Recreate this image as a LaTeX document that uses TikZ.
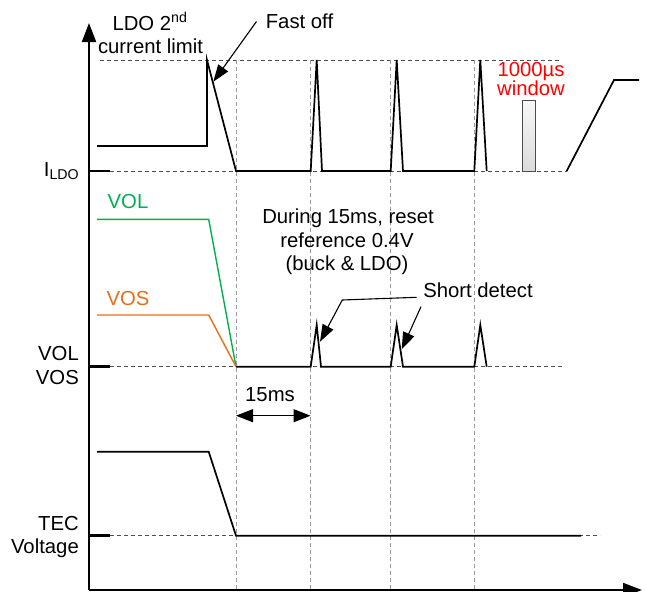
\documentclass[tikz,border=0pt]{standalone}
\usepackage{fontspec}
\setmainfont{Liberation Sans}
\usetikzlibrary{arrows.meta}
\definecolor{volgreen}{RGB}{0,176,80}
\definecolor{vosorange}{RGB}{228,112,30}
\definecolor{redtxt}{RGB}{255,0,0}
\tikzset{
  axisline/.style={line width=2pt,-{Triangle[length=19pt,width=14pt]}},
  wave/.style={line width=1.7pt,black,line join=miter},
  gridline/.style={gray!80,line width=0.8pt,dash pattern=on 4pt off 3pt},
  lvl/.style={black!70,line width=0.8pt,dash pattern=on 4pt off 3pt},
  tickmark/.style={line width=2.8pt,black},
  lbl/.style={font=\fontsize{20.3}{24}\selectfont,inner sep=0pt},
  ann/.style={line width=1.1pt,-{Triangle[length=17pt,width=12pt]}},
  dimarrow/.style={line width=1.1pt,{Triangle[length=17pt,width=13pt]}-{Triangle[length=17pt,width=13pt]}},
}
\begin{document}
\begin{tikzpicture}[x=1pt,y=-1pt]
\useasboundingbox (0,0) rectangle (646,592);
% grid
\draw[lvl] (100,60) -- (560,60);
\draw[lvl] (110,171) -- (567,171);
\draw[lvl] (110,366.7) -- (563,366.7);
\draw[lvl] (110,535.7) -- (600,535.7);
\foreach \xx in {236,310.5,390.7,474.3}
  \draw[gridline] (\xx,60) -- (\xx,590);
% axes
\coordinate (O) at (89,590);
\coordinate (ytop) at (89,23);
\coordinate (xend) at (642,590);
\draw[axisline] (O) -- (ytop);
\draw[axisline] (O) -- (xend);
% ticks
\draw[tickmark] (89,171) -- (110,171);
\draw[tickmark] (89,366.7) -- (110,366.7);
\draw[tickmark] (89,535.7) -- (110,535.7);
% ILDO waveform
\draw[wave] (97,146) -- (207,146) -- (207,60) -- (236,171) -- (310.7,171) -- (316.7,60) -- (322,171)
  -- (390.7,171) -- (396.7,60) -- (403,171) -- (474.3,171) -- (480.3,60) -- (486.7,171);
\draw[wave] (566.7,171) -- (614,80) -- (639,80);
\shade[top color=gray!6,bottom color=gray!28,draw=black!70,line width=0.8pt] (522.7,100.7) rectangle (535.3,171);
% VOL / VOS
\draw[volgreen,line width=1.4pt] (97,219.3) -- (208.7,219.3) -- (236,366.7);
\draw[vosorange,line width=1.4pt] (97,315) -- (208.7,315) -- (236,366.7);
\draw[wave] (236,366.7) -- (310.7,366.7) -- (316.7,325) -- (321,366.7) -- (390.7,366.7) -- (396.7,325)
  -- (403,366.7) -- (474.3,366.7) -- (480.3,325) -- (486.7,366.7);
% TEC
\draw[wave] (97,451.7) -- (208.7,451.7) -- (236,535.7) -- (581,535.7);
% labels
\node[lbl,anchor=base] (ldo) at (150,30) {LDO 2\textsuperscript{nd}};
\node[lbl,anchor=base] (curlim) at (150.5,53) {current limit};
\node[lbl,anchor=base] (fast) at (299.5,28) {Fast off};
\node[lbl,anchor=base,text=redtxt] (win1) at (531,76) {1000µs};
\node[lbl,anchor=base,text=redtxt] (win2) at (531,95) {window};
\node[lbl,anchor=base,text=volgreen] (vol) at (128,208) {VOL};
\node[lbl,anchor=base,text=vosorange] (vos) at (128,305) {VOS};
\node[lbl,anchor=base] (dur1) at (348,223) {During 15ms, reset};
\node[lbl,anchor=base] (dur2) at (347,247) {reference 0.4V};
\node[lbl,anchor=base] (dur3) at (347,270) {(buck \& LDO)};
\node[lbl,anchor=base] (short) at (478,297) {Short detect};
\node[lbl,anchor=base] (ms) at (270,401.7) {15ms};
\node[lbl,anchor=base east] (ildo) at (79.5,176.5) {I\textsubscript{LDO}};
\node[lbl,anchor=base east] (vollbl) at (79,360.7) {VOL};
\node[lbl,anchor=base east] (voslbl) at (79,384) {VOS};
\node[lbl,anchor=base east] (teclbl) at (79,530) {TEC};
\node[lbl,anchor=base east] (voltlbl) at (79,553) {Voltage};
% annotations
\coordinate (fs) at (256.5,21.5);
\coordinate (ft) at (213.3,81.7);
\draw[ann] (fs) -- (ft);
\coordinate (s1a) at (416.7,297.3);
\coordinate (s1b) at (342.3,300);
\coordinate (s1t) at (320,341.7);
\draw[ann] (s1a) -- (s1b) -- (s1t);
\coordinate (s2a) at (421,306.7);
\coordinate (s2t) at (401.7,349.3);
\draw[ann] (s2a) -- (s2t);
\coordinate (d1) at (236,415.7);
\coordinate (d2) at (310.5,415.7);
\draw[dimarrow] (d1) -- (d2);
\end{tikzpicture}
\end{document}
